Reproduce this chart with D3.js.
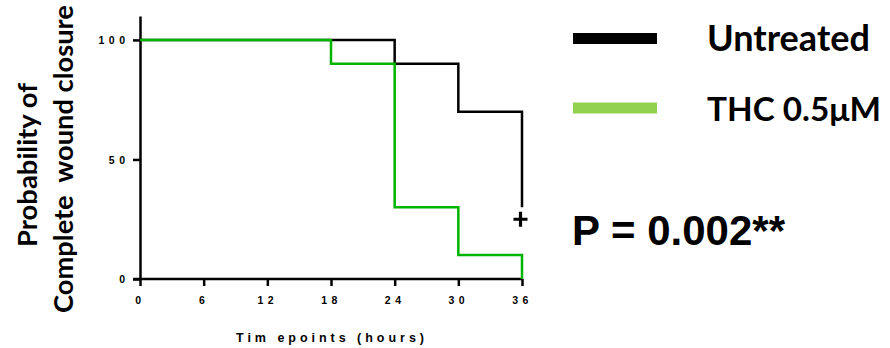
<!DOCTYPE html>
<html>
<head>
<meta charset="utf-8">
<script src="https://cdn.jsdelivr.net/npm/d3@7"></script>
<style>
  html, body { margin: 0; padding: 0; background: #fff; }
  svg { display: block; }
</style>
</head>
<body>
<svg id="chart" width="890" height="348"></svg>
<script>
// ---- data ----
const xTicks = [0, 6, 12, 18, 24, 30, 36];
const yTicks = [0, 50, 100];
const seriesNames = ["Untreated", "THC 0.5\u03bcM"];
const untreatedTimes = [0, 24, 30, 36];
const untreatedValues = [100, 90, 70, 30];
const thcTimes = [0, 18, 24, 30, 36];
const thcValues = [100, 90, 30, 10, 0];
const censorTimes = [36];
const censorValues = [25];
const pValueText = "P = 0.002**";
const xTitle = "Tim epoints (hours)";
const yTitleLines = ["Probability of", "Complete  wound closure"];

// ---- layout ----
const svg = d3.select("#chart");
const x = d3.scaleLinear().domain([0, 36]).range([140, 522]);
const y = d3.scaleLinear().domain([0, 110]).range([279, 16]);

const tickFont = "'Liberation Sans', Arial, sans-serif";
const calFont = "Lato, 'Open Sans', sans-serif";

// axes
const xAxis = svg.append("g").attr("transform", `translate(0,${y(0)})`)
  .call(d3.axisBottom(x).tickValues(xTicks).tickSize(7).tickSizeOuter(0).tickPadding(11));
const yAxis = svg.append("g").attr("transform", `translate(${x(0)},0)`)
  .call(d3.axisLeft(y).tickValues(yTicks).tickSize(7).tickSizeOuter(0).tickPadding(8));

[xAxis, yAxis].forEach(g => {
  g.select(".domain").attr("stroke", "#000").attr("stroke-width", 2.5);
  g.selectAll(".tick line").attr("stroke", "#000").attr("stroke-width", 2.5);
  g.selectAll(".tick text")
    .attr("fill", "#000")
    .style("font-family", tickFont)
    .style("font-weight", "bold")
    .style("font-size", "10.5px")
    .style("letter-spacing", "4.5px");
});
// extend x-axis line to the left tick
xAxis.select(".domain").attr("d", `M${x(0) - 7},0H${x(36)}`);
yAxis.selectAll(".tick text").attr("dy", "0.36em").attr("dx", "4.5px");

// series
const line = d3.line().x(d => x(d[0])).y(d => y(d[1])).curve(d3.curveStepAfter);
const untreated = untreatedTimes.map((t, i) => [t, untreatedValues[i]]);
const thc = thcTimes.map((t, i) => [t, thcValues[i]]);

svg.append("path").datum(untreated).attr("d", line)
  .attr("fill", "none").attr("stroke", "#000").attr("stroke-width", 2.5);
svg.append("path").datum(thc).attr("d", line)
  .attr("fill", "none").attr("stroke", "#00b400").attr("stroke-width", 2.5);

// censor marks
censorTimes.forEach((t, i) => {
  const cx = x(t) - 1.5, cy = y(censorValues[i]);
  svg.append("path")
    .attr("d", `M${cx - 7},${cy}H${cx + 7}M${cx},${cy - 7.5}V${cy + 7.5}`)
    .attr("stroke", "#000").attr("stroke-width", 3.2).attr("fill", "none");
});

// x title
svg.append("text")
  .attr("x", 236).attr("y", 341.5)
  .attr("textLength", 188).attr("lengthAdjust", "spacing")
  .style("font-family", tickFont).style("font-weight", "bold").style("font-size", "12.5px")
  .attr("fill", "#000")
  .text(xTitle);

// helper to fit text width
function fit(sel, width) {
  const w = sel.node().getComputedTextLength();
  const fs = parseFloat(sel.style("font-size"));
  sel.style("font-size", (fs * width / w) + "px");
}

// y title (two lines)
const yT1 = svg.append("text")
  .attr("transform", "translate(37,165) rotate(-90)")
  .attr("text-anchor", "middle")
  .style("font-family", calFont).style("font-weight", "bold").style("font-size", "26px")
  .attr("fill", "#000").text(yTitleLines[0]);
fit(yT1, 164);
const yT2 = svg.append("text")
  .attr("transform", "translate(73,159) rotate(-90)")
  .attr("text-anchor", "middle")
  .style("font-family", calFont).style("font-weight", "bold").style("font-size", "26px")
  .attr("fill", "#000").attr("xml:space", "preserve").style("white-space", "pre")
  .text(yTitleLines[1]);
fit(yT2, 308);

// legend
const legendColors = ["#000", "#92d050"];
const legendY = [38.5, 108];
seriesNames.forEach((name, i) => {
  svg.append("line")
    .attr("x1", 573).attr("x2", 657)
    .attr("y1", legendY[i]).attr("y2", legendY[i])
    .attr("stroke", legendColors[i]).attr("stroke-width", 11);
  const t = svg.append("text")
    .attr("x", 707).attr("y", legendY[i] + 12.5)
    .style("font-family", calFont).style("font-weight", "bold").style("font-size", "34px")
    .attr("fill", "#000").text(name);
  fit(t, i === 0 ? 163 : 174);
});

// p value
const pt = svg.append("text")
  .attr("x", 572).attr("y", 245)
  .style("font-family", tickFont).style("font-weight", "bold").style("font-size", "41.7px")
  .attr("fill", "#000").text(pValueText);
fit(pt, 213);
</script>
</body>
</html>
